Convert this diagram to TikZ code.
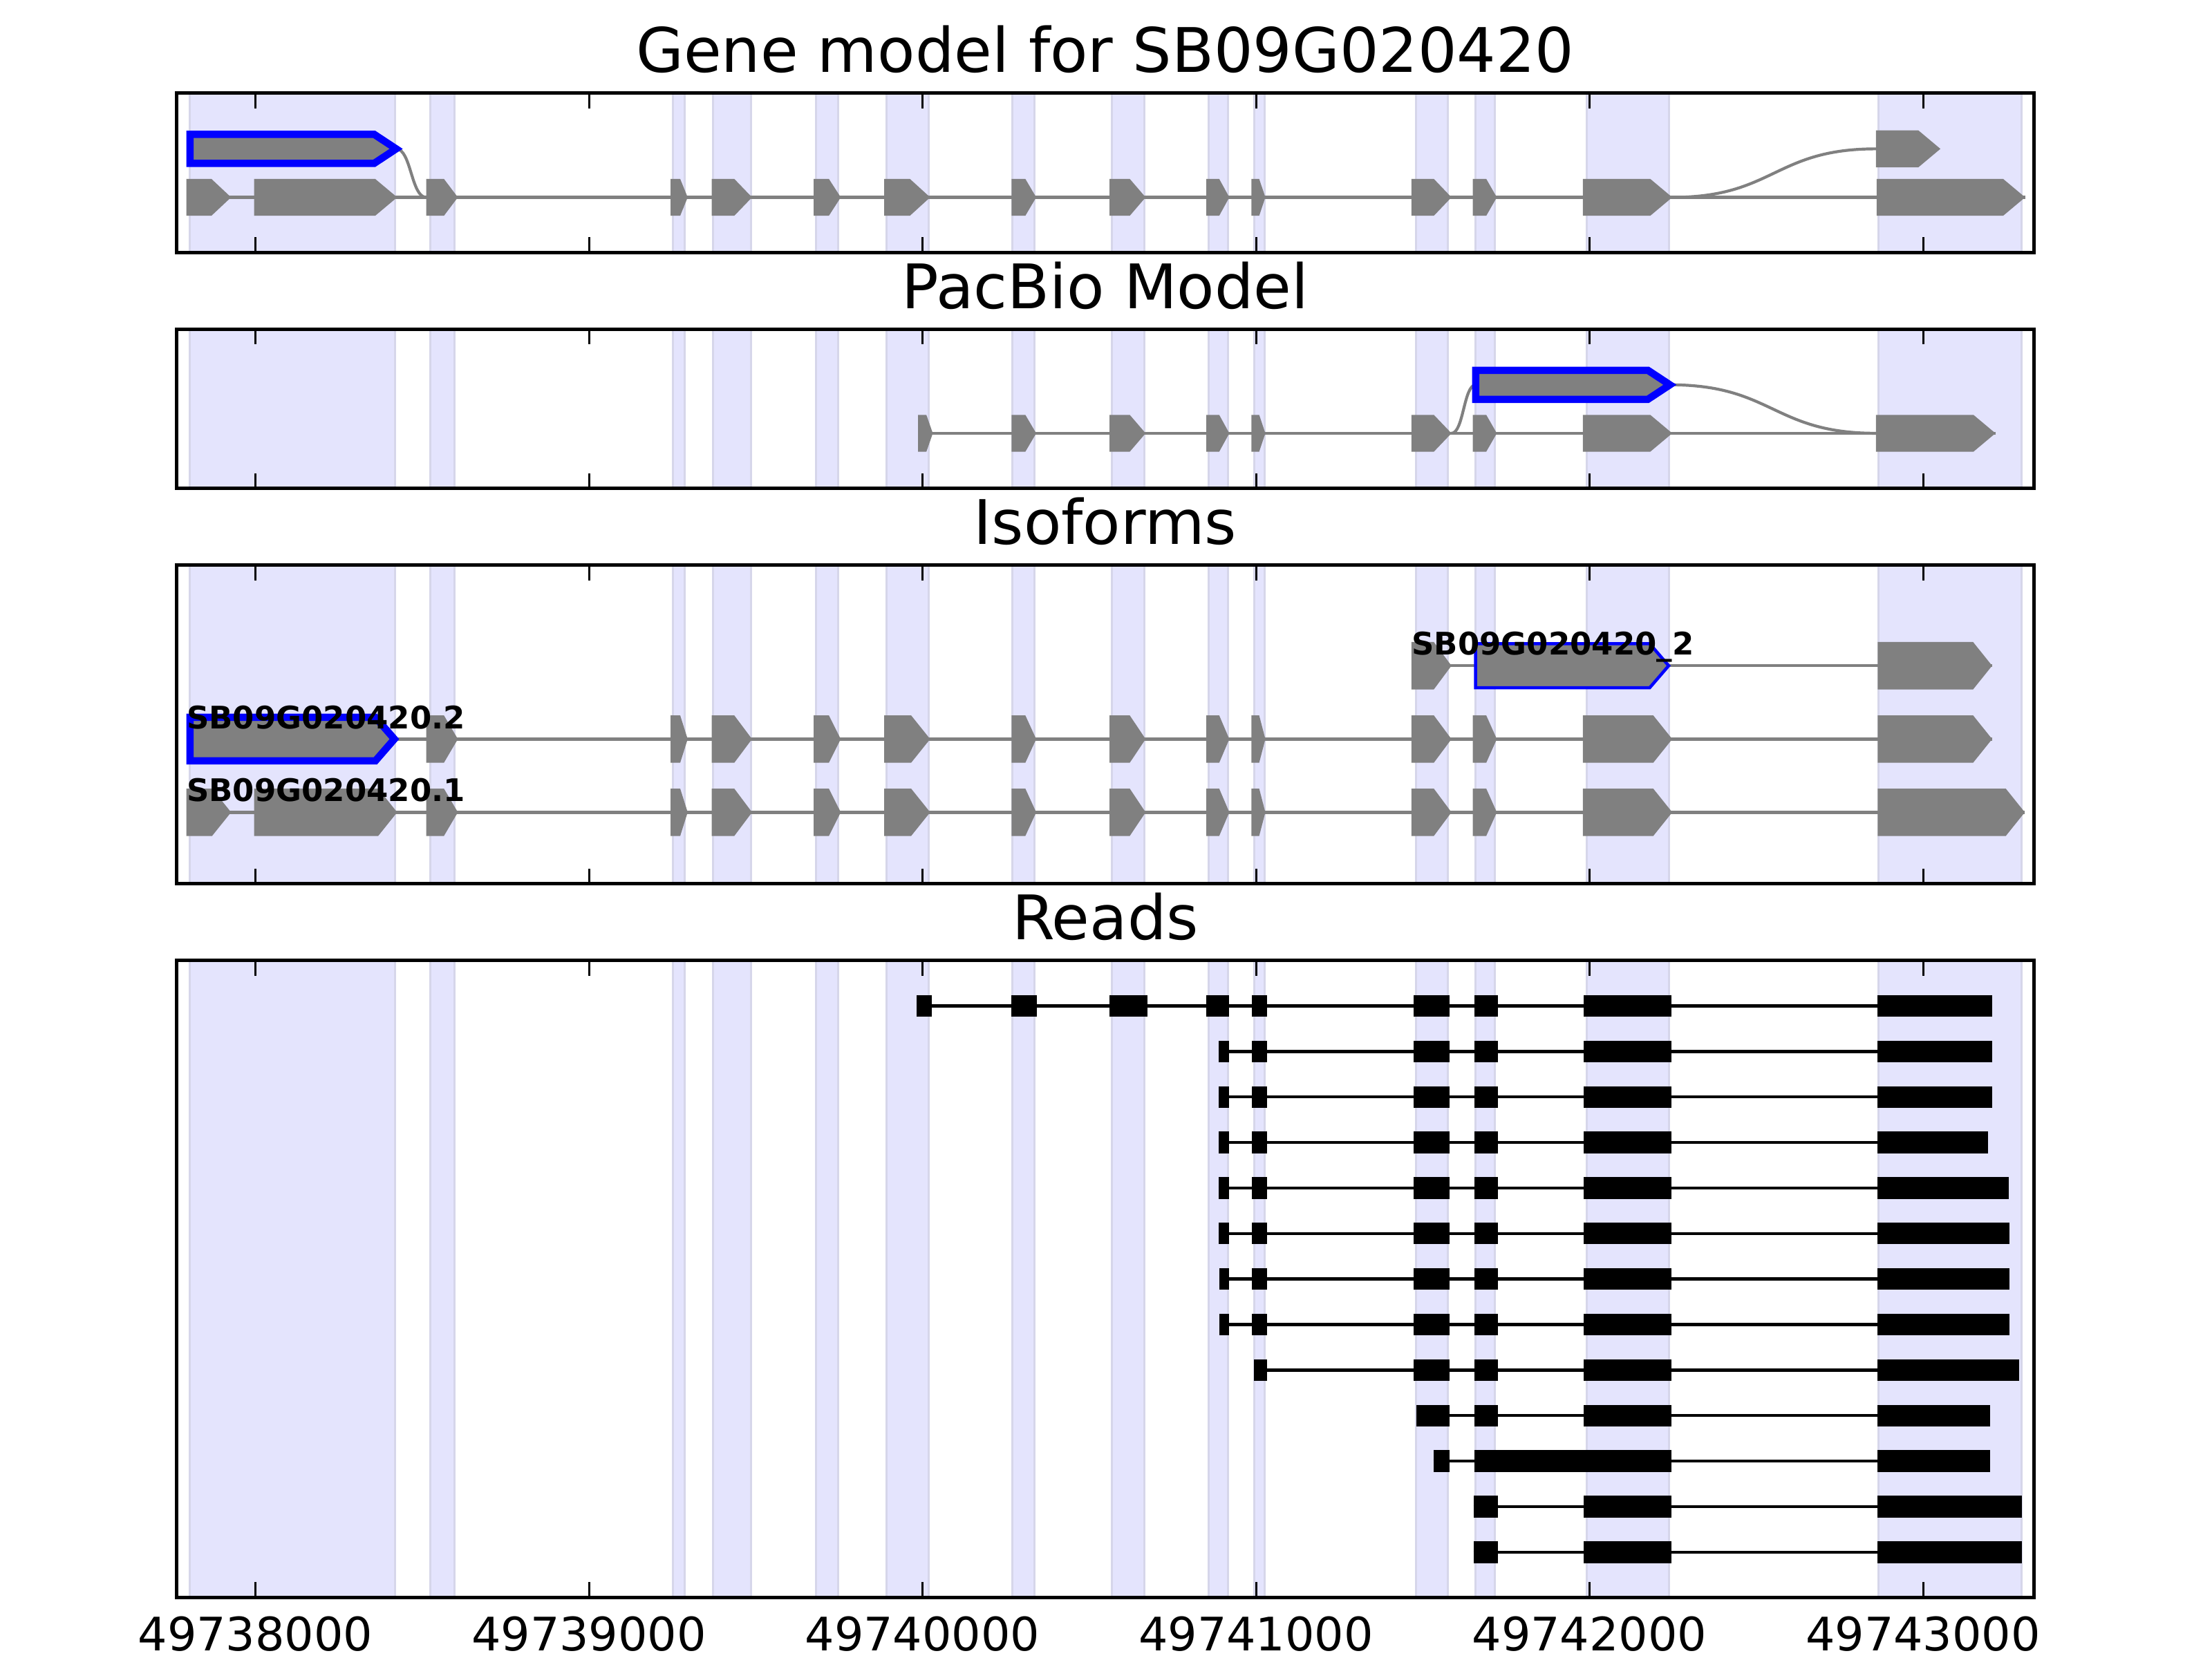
\documentclass[tikz,border=0pt]{standalone}
\usepackage{fontspec}
\setmainfont{DejaVu Sans}
\definecolor{exongray}{RGB}{128,128,128}
\definecolor{bandfill}{RGB}{228,228,253}
\definecolor{bandedge}{RGB}{214,214,234}

\newcommand{\headcap}{0.066}
\newcommand{\exon}[5][exon]{%
  \pgfmathsetmacro\hd{min(0.44*((#3)-(#2)),\headcap)}%
  \path[#1] (#2,#4-#5) -- (#3-\hd,#4-#5) -- (#3,#4) -- (#3-\hd,#4+#5) -- (#2,#4+#5) -- cycle;}
\newcommand{\readrow}[4]{%
  \pgfmathsetmacro\ry{1390.4+65.9*#1}%
  \draw[readline] (#2,\ry) -- (#3,\ry);
  \foreach \s/\e in {#4} \fill[readblock] (\s,\ry-15.7) rectangle (\e,\ry+15.7);}
\def\bands{-0.196/0.419, 0.525/0.596, 1.252/1.288, 1.373/1.485, 1.680/1.748, 1.893/2.019, 2.270/2.335,
  2.567/2.666, 2.857/2.917, 2.994/3.025, 3.479/3.575, 3.659/3.717, 3.991/4.239, 4.867/5.296}
\def\coreexons{0.512/0.607, 1.245/1.296, 1.368/1.489, 1.674/1.755, 1.885/2.023, 2.267/2.341,
  2.561/2.669, 2.851/2.920, 2.986/3.028, 3.466/3.586, 3.650/3.722, 3.980/4.248}

\begin{document}
\begin{tikzpicture}[x=4.825cm, y=-0.01cm,
    band/.style={fill=bandfill, draw=bandedge, line width=0.03cm},
    panelframe/.style={draw=black, line width=0.05cm},
    axistick/.style={draw=black, line width=0.03cm},
    intron/.style={draw=exongray, line width=0.045cm},
    splice/.style={draw=exongray, line width=0.042cm},
    exon/.style={fill=exongray},
    hiexon/.style={fill=exongray, draw=blue, line width=0.105cm},
    hiexonthin/.style={fill=exongray, draw=blue, line width=0.045cm},
    readblock/.style={fill=black},
    readline/.style={draw=black, line width=0.045cm},
    paneltitle/.style={anchor=base, inner sep=0pt, font=\fontsize{25.3pt}{30pt}\selectfont},
    ticklabel/.style={anchor=base, inner sep=0pt, font=\fontsize{19pt}{22pt}\selectfont},
    isolabel/.style={anchor=base west, inner sep=0pt, font=\bfseries\fontsize{12.8pt}{15pt}\selectfont}]

  \useasboundingbox[fill=white] (-0.765803,0) rectangle (5.866321,2400);

  \foreach \ptop/\pbot in {135/365.6, 476.6/707.2, 818.2/1279.4, 1390.4/2312.8}
    \foreach \s/\e in \bands \filldraw[band] (\s,\ptop) rectangle (\e,\pbot);

  \node[paneltitle] (genetitle) at (2.548,105) {Gene model for SB09G020420};
  \node[paneltitle] (pacbiotitle) at (2.548,446.6) {PacBio Model};
  \node[paneltitle] (isotitle) at (2.548,788) {Isoforms};
  \node[paneltitle] (readstitle) at (2.548,1360) {Reads};

  \coordinate (gAtip) at (0.422,215.5);
  \coordinate (gX3) at (0.512,285.7);
  \coordinate (gX14tip) at (4.248,285.7);
  \coordinate (gAltstart) at (4.859,215.5);
  \draw[intron] (-0.207,285.7) -- (5.306,285.7);
  \draw[splice] (gAtip) .. controls +(0.045,0) and +(-0.045,0) .. (gX3);
  \draw[splice] (gX14tip) .. controls +(0.3055,0) and +(-0.3055,0) .. (gAltstart);
  \foreach \s/\e in {-0.207/-0.073, -0.004/0.425} \exon{\s}{\e}{285.7}{26.7};
  \foreach \s/\e in \coreexons \exon{\s}{\e}{285.7}{26.7};
  \exon{4.861}{5.306}{285.7}{26.7}
  \exon{4.859}{5.052}{215.5}{26.7}
  \exon[hiexon]{-0.196}{0.422}{215.5}{21}

  \coordinate (pX12tip) at (3.586,627.3);
  \coordinate (pHistart) at (3.659,557.1);
  \coordinate (pHitip) at (4.241,557.1);
  \coordinate (pLaststart) at (4.859,627.3);
  \draw[intron] (1.987,627.3) -- (5.217,627.3);
  \draw[splice] (pX12tip) .. controls +(0.0365,0) and +(-0.0365,0) .. (pHistart);
  \draw[splice] (pHitip) .. controls +(0.309,0) and +(-0.309,0) .. (pLaststart);
  \foreach \s/\e in {1.987/2.031, 2.267/2.341, 2.561/2.669, 2.851/2.920, 2.986/3.028, 3.466/3.586,
    3.650/3.722, 3.980/4.248, 4.859/5.217} \exon{\s}{\e}{627.3}{26.7};
  \exon[hiexon]{3.659}{4.241}{557.1}{21}

  \renewcommand{\headcap}{0.057}
  \draw[intron] (3.466,963.8) -- (5.207,963.8);
  \exon{3.466}{3.586}{963.8}{34.3}
  \exon[hiexonthin]{3.6585}{4.2373}{963.8}{31.9}
  \exon{4.864}{5.207}{963.8}{34.3}
  \draw[intron] (-0.207,1070) -- (5.207,1070);
  \foreach \s/\e in \coreexons \exon{\s}{\e}{1070}{34.3};
  \exon{4.864}{5.207}{1070}{34.3}
  \exon[hiexon]{-0.196}{0.4166}{1070}{31.6}
  \draw[intron] (-0.207,1176) -- (5.305,1176);
  \foreach \s/\e in {-0.207/-0.073, -0.004/0.425} \exon{\s}{\e}{1176}{34.3};
  \foreach \s/\e in \coreexons \exon{\s}{\e}{1176}{34.3};
  \exon{4.864}{5.305}{1176}{34.3}
  \node[isolabel] (iso2label) at (3.466,948.5) {SB09G020420\_2};
  \node[isolabel] (isodot2label) at (-0.207,1055) {SB09G020420.2};
  \node[isolabel] (isodot1label) at (-0.207,1160.5) {SB09G020420.1};

  \readrow{1}{1.983}{5.207}{1.983/2.027, 2.266/2.344, 2.561/2.674, 2.851/2.920, 2.987/3.033, 3.473/3.581, 3.655/3.725, 3.983/4.245, 4.864/5.207}
  \readrow{2}{2.888}{5.207}{2.888/2.920, 2.987/3.033, 3.473/3.581, 3.655/3.725, 3.983/4.245, 4.864/5.207}
  \readrow{3}{2.888}{5.207}{2.888/2.920, 2.987/3.033, 3.473/3.581, 3.655/3.725, 3.983/4.245, 4.864/5.207}
  \readrow{4}{2.888}{5.194}{2.888/2.920, 2.987/3.033, 3.473/3.581, 3.655/3.725, 3.983/4.245, 4.864/5.194}
  \readrow{5}{2.888}{5.256}{2.888/2.920, 2.987/3.033, 3.473/3.581, 3.655/3.725, 3.983/4.245, 4.864/5.256}
  \readrow{6}{2.888}{5.260}{2.888/2.920, 2.987/3.033, 3.473/3.581, 3.655/3.725, 3.983/4.245, 4.864/5.260}
  \readrow{7}{2.891}{5.260}{2.891/2.920, 2.987/3.033, 3.473/3.581, 3.655/3.725, 3.983/4.245, 4.864/5.260}
  \readrow{8}{2.891}{5.260}{2.891/2.920, 2.987/3.033, 3.473/3.581, 3.655/3.725, 3.983/4.245, 4.864/5.260}
  \readrow{9}{2.994}{5.287}{2.994/3.033, 3.473/3.581, 3.655/3.725, 3.983/4.245, 4.864/5.287}
  \readrow{10}{3.481}{5.200}{3.481/3.581, 3.655/3.725, 3.983/4.245, 4.864/5.200}
  \readrow{11}{3.532}{5.200}{3.532/3.581, 3.655/4.245, 4.864/5.200}
  \readrow{12}{3.652}{5.296}{3.652/3.725, 3.983/4.245, 4.864/5.296}
  \readrow{13}{3.652}{5.296}{3.652/3.725, 3.983/4.245, 4.864/5.296}

  \foreach \ptop/\pbot in {135/365.6, 476.6/707.2, 818.2/1279.4, 1390.4/2312.8} {
    \foreach \t in {0,...,5} {
      \draw[axistick] (\t,\ptop) -- (\t,\ptop+22);
      \draw[axistick] (\t,\pbot) -- (\t,\pbot-22);
    }
    \draw[panelframe] (-0.2363,\ptop) rectangle (5.3326,\pbot);
  }
  \foreach \t/\lab in {0/49738000, 1/49739000, 2/49740000, 3/49741000, 4/49742000, 5/49743000}
    \node[ticklabel] (tick\t) at (\t,2390) {\lab};
\end{tikzpicture}
\end{document}
